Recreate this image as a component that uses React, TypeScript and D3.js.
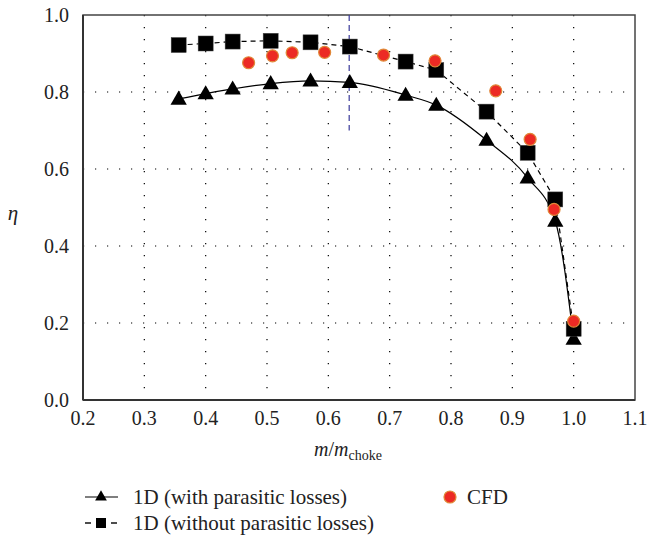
import React from "react";
import * as d3 from "d3";

const withX = [0.356, 0.4, 0.444, 0.506, 0.571, 0.635, 0.726, 0.776, 0.858, 0.925, 0.97, 1.0];
const withY = [0.782, 0.796, 0.808, 0.822, 0.829, 0.825, 0.792, 0.766, 0.675, 0.577, 0.465, 0.158];
const withoutX = [0.356, 0.4, 0.444, 0.506, 0.571, 0.635, 0.726, 0.776, 0.858, 0.925, 0.97, 1.0];
const withoutY = [0.922, 0.926, 0.931, 0.933, 0.929, 0.918, 0.879, 0.857, 0.749, 0.642, 0.521, 0.185];
const cfdX = [0.47, 0.509, 0.541, 0.594, 0.69, 0.774, 0.873, 0.929, 0.968, 1.0];
const cfdY = [0.876, 0.894, 0.902, 0.903, 0.896, 0.881, 0.803, 0.677, 0.495, 0.205];
const xTicks = [0.2, 0.3, 0.4, 0.5, 0.6, 0.7, 0.8, 0.9, 1.0, 1.1];
const yTicks = [0.0, 0.2, 0.4, 0.6, 0.8, 1.0];
const designX = 0.634;
const designYRange = [0.7, 1.0];
const legendLabels = ["1D (with parasitic losses)", "1D (without parasitic losses)", "CFD"];

export default function App() {
  const L = 83, R = 635, T = 15, B = 400;
  const x = d3.scaleLinear().domain([0.2, 1.1]).range([L, R]);
  const y = d3.scaleLinear().domain([0, 1]).range([B, T]);
  const tf: React.CSSProperties = { fontFamily: '"Liberation Serif", "DejaVu Serif", serif' };
  const lineSmooth = d3.line<[number, number]>().x((d) => x(d[0])).y((d) => y(d[1])).curve(d3.curveMonotoneX);
  const lineLin = d3.line<[number, number]>().x((d) => x(d[0])).y((d) => y(d[1]));
  const withPts = withX.map((v, i) => [v, withY[i]] as [number, number]);
  const withoutPts = withoutX.map((v, i) => [v, withoutY[i]] as [number, number]);
  const tri = d3.symbol().type(d3.symbolTriangle).size(115)() as string;
  const triSmall = d3.symbol().type(d3.symbolTriangle).size(60)() as string;
  const sq = 15;
  return (
    <svg width={648} height={542} style={{ position: "absolute", left: 0, top: 0 }}>
      <rect width={648} height={542} fill="#fff" />
      {xTicks.filter((t) => t > 0.25 && t < 1.05).map((t) => (
        <line key={"gx" + t} x1={x(t)} x2={x(t)} y1={T} y2={B} stroke="#000" strokeWidth={1.2} strokeDasharray="1.2 10.8" />
      ))}
      {yTicks.filter((t) => t > 0.1 && t < 0.9).map((t) => (
        <line key={"gy" + t} x1={L} x2={R} y1={y(t)} y2={y(t)} stroke="#000" strokeWidth={1.2} strokeDasharray="1.2 10.8" />
      ))}
      <rect x={L} y={T} width={R - L} height={B - T} fill="none" stroke="#444" strokeWidth={1.5} />
      <line x1={L} x2={L} y1={T} y2={B} stroke="#333" strokeWidth={2} />
      <line x1={L} x2={R} y1={B} y2={B} stroke="#333" strokeWidth={2} />
      <line x1={x(designX)} x2={x(designX)} y1={y(designYRange[1])} y2={y(designYRange[0])} stroke="#3a3a9a" strokeWidth={1.2} strokeDasharray="6 4" />
      <path d={lineSmooth(withPts) || ""} fill="none" stroke="#000" strokeWidth={1.2} />
      <path d={lineLin(withoutPts) || ""} fill="none" stroke="#000" strokeWidth={1.2} strokeDasharray="5 4" />
      {withPts.map((p, i) => (
        <path key={"t" + i} d={tri} transform={`translate(${x(p[0])},${y(p[1]) + 1})`} fill="#000" />
      ))}
      {withoutPts.map((p, i) => (
        <rect key={"s" + i} x={x(p[0]) - sq / 2} y={y(p[1]) - sq / 2} width={sq} height={sq} fill="#000" stroke="#444" strokeWidth={0.5} />
      ))}
      {cfdX.map((v, i) => (
        <circle key={"c" + i} cx={x(v)} cy={y(cfdY[i])} r={6} fill="#ec2a24" stroke="#e08838" strokeWidth={1.2} />
      ))}
      {yTicks.map((t) => (
        <text key={"yl" + t} x={L - 14} y={y(t)} dy="0.35em" textAnchor="end" style={tf} fontSize={20} fill="#222">
          {t.toFixed(1)}
        </text>
      ))}
      {xTicks.map((t) => (
        <text key={"xl" + t} x={x(t)} y={B + 25} textAnchor="middle" style={tf} fontSize={20} fill="#222">
          {t.toFixed(1)}
        </text>
      ))}
      <text x={13} y={220} textAnchor="middle" style={tf} fontSize={21} fontStyle="italic" fill="#222">η</text>
      <text x={348} y={456} textAnchor="middle" style={tf} fontSize={20} fill="#222">
        <tspan fontStyle="italic">m</tspan>
        <tspan>/</tspan>
        <tspan fontStyle="italic">m</tspan>
        <tspan fontSize={14} dy={4}>choke</tspan>
      </text>
      <line x1={85} x2={118} y1={497} y2={497} stroke="#000" strokeWidth={1.2} />
      <path d={triSmall} transform="translate(101,497)" fill="#000" />
      <text x={133} y={497} dy="0.35em" style={tf} fontSize={21} fill="#222">{legendLabels[0]}</text>
      <line x1={85} x2={91} y1={523} y2={523} stroke="#000" strokeWidth={1.4} />
      <line x1={111} x2={117} y1={523} y2={523} stroke="#000" strokeWidth={1.4} />
      <rect x={96} y={518} width={10} height={10} fill="#000" />
      <text x={133} y={523} dy="0.35em" style={tf} fontSize={21} fill="#222">{legendLabels[1]}</text>
      <circle cx={450} cy={497} r={6} fill="#ec2a24" stroke="#e08838" strokeWidth={1.2} />
      <text x={467} y={497} dy="0.35em" style={tf} fontSize={21} fill="#222">{legendLabels[2]}</text>
    </svg>
  );
}
